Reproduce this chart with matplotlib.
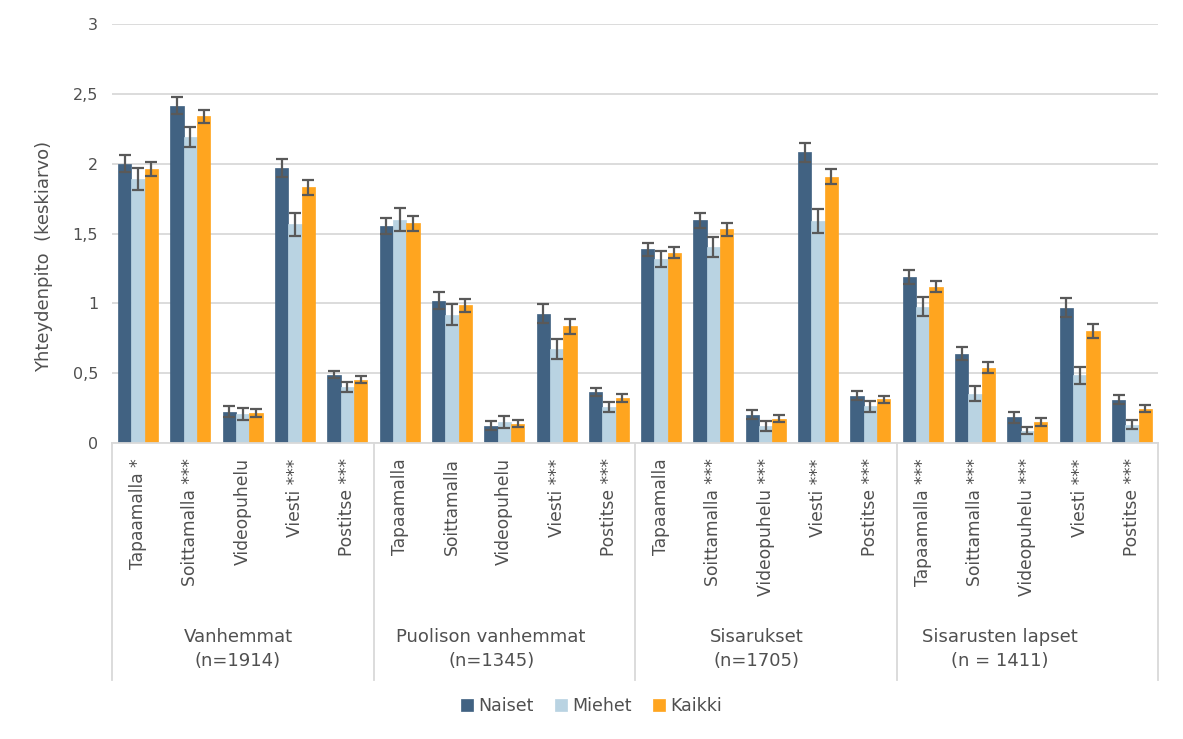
import matplotlib
matplotlib.use("Agg")
import matplotlib.pyplot as plt
import matplotlib.transforms as mtransforms
import numpy as np

plt.rcParams['font.family'] = ['DejaVu Sans']

groups = ["Vanhemmat\n(n=1914)", "Puolison vanhemmat\n(n=1345)",
          "Sisarukset\n(n=1705)", "Sisarusten lapset\n(n = 1411)"]
categories = [
    "Tapaamalla *", "Soittamalla ***", "Videopuhelu", "Viesti ***", "Postitse ***",
    "Tapaamalla", "Soittamalla", "Videopuhelu", "Viesti ***", "Postitse ***",
    "Tapaamalla", "Soittamalla ***", "Videopuhelu ***", "Viesti ***", "Postitse ***",
    "Tapaamalla ***", "Soittamalla ***", "Videopuhelu ***", "Viesti ***", "Postitse ***",
]
naiset = [2.00, 2.415, 0.224, 1.97, 0.49,
          1.556, 1.02, 0.124, 0.926, 0.363,
          1.387, 1.594, 0.203, 2.08, 0.339,
          1.19, 0.64, 0.184, 0.97, 0.31]
naiset_err = [0.063, 0.06, 0.038, 0.066, 0.027,
              0.057, 0.062, 0.031, 0.066, 0.03,
              0.047, 0.056, 0.031, 0.07, 0.032,
              0.051, 0.049, 0.038, 0.066, 0.031]
miehet = [1.89, 2.19, 0.207, 1.565, 0.40,
          1.60, 0.92, 0.15, 0.673, 0.26,
          1.32, 1.405, 0.122, 1.59, 0.262,
          0.976, 0.353, 0.088, 0.485, 0.132]
miehet_err = [0.079, 0.073, 0.042, 0.083, 0.037,
              0.08, 0.075, 0.042, 0.072, 0.036,
              0.058, 0.072, 0.033, 0.086, 0.04,
              0.066, 0.052, 0.026, 0.06, 0.03]
kaikki = [1.96, 2.34, 0.217, 1.83, 0.453,
          1.573, 0.985, 0.138, 0.836, 0.322,
          1.363, 1.53, 0.174, 1.907, 0.313,
          1.12, 0.539, 0.151, 0.803, 0.247]
kaikki_err = [0.049, 0.047, 0.03, 0.055, 0.025,
              0.052, 0.049, 0.027, 0.052, 0.026,
              0.038, 0.048, 0.024, 0.054, 0.024,
              0.04, 0.038, 0.03, 0.049, 0.025]
series_names = ["Naiset", "Miehet", "Kaikki"]
colors = ["#416282", "#B9D3E2", "#FFA51F"]
yticks = [0, 0.5, 1, 1.5, 2, 2.5, 3]
ytick_labels = ["0", "0,5", "1", "1,5", "2", "2,5", "3"]

# layout: group label horizontal shift (in category units) as in the original
group_label_shift = [-0.09, -0.25, -0.17, -0.52]

TXT = "#505050"
fig = plt.figure(figsize=(11.83, 7.39), dpi=100)
ax = fig.add_axes([112/1183, 1-443/739, (1158-112)/1183, (443-24)/739])

x = np.arange(len(categories))
w = 0.255
offsets = [-w, 0, w]
for vals, errs, off, col, name in zip([naiset, miehet, kaikki],
                                      [naiset_err, miehet_err, kaikki_err],
                                      offsets, colors, series_names):
    ax.bar(x + off, vals, width=w, color=col, label=name, zorder=2,
           edgecolor=col, linewidth=0.5)
    ax.errorbar(x + off, vals, yerr=errs, fmt='none', ecolor="#595959",
                elinewidth=1.6, capsize=4, capthick=1.6, zorder=3)

ax.set_ylim(0, 3)
ax.set_xlim(-0.5, len(categories) - 0.5)
ax.set_yticks(yticks)
ax.set_yticklabels(ytick_labels, fontsize=11.5, color=TXT)
ax.yaxis.grid(True, color="#D9D9D9", linewidth=1.3, zorder=0)
ax.set_axisbelow(True)
for s in ["top", "right", "left"]:
    ax.spines[s].set_visible(False)
ax.spines["bottom"].set_color("#D9D9D9")
ax.spines["bottom"].set_linewidth(1.3)
ax.tick_params(axis='y', length=0, pad=10)
ax.tick_params(axis='x', length=0, pad=11)
ax.set_xticks(x)
ax.set_xticklabels(categories, rotation=90, fontsize=12.3, color=TXT)
ax.set_ylabel("Yhteydenpito  (keskiarvo)", fontsize=13, color=TXT)
ax.yaxis.set_label_coords(-0.056, 0.445)

trans = mtransforms.blended_transform_factory(ax.transData, ax.transAxes)
bottom_frac = (443 - 680) / (443 - 24)
for b in [-0.5, 4.5, 9.5, 14.5, 19.5]:
    ax.plot([b, b], [0, bottom_frac], transform=trans, color="#D9D9D9",
            linewidth=1.3, clip_on=False, zorder=1)
label_y = (443 - 649) / (443 - 24)
for i, g in enumerate(groups):
    ax.text(i * 5 + 2 + group_label_shift[i], label_y, g, transform=trans,
            ha='center', va='center', fontsize=13, color=TXT, linespacing=1.5)

handles, labels = ax.get_legend_handles_labels()
fig.legend(handles, labels, loc='center', bbox_to_anchor=(0.5, 1 - 706/739),
           ncol=3, frameon=False, fontsize=12.5, handlelength=0.7, handleheight=0.7,
           columnspacing=1.2, handletextpad=0.3, labelcolor=TXT)

fig.savefig("out.png", dpi=100)
